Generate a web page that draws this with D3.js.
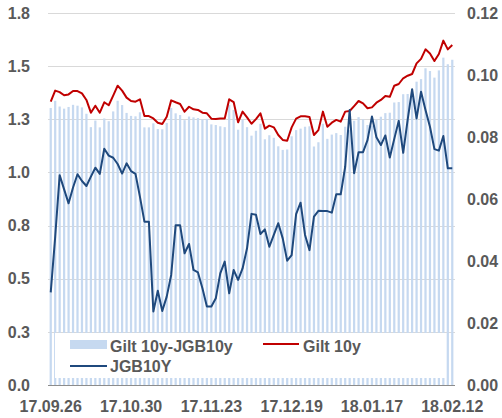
<!DOCTYPE html>
<html><head><meta charset="utf-8">
<script src="https://cdn.jsdelivr.net/npm/d3@7"></script>
<style>
html,body{margin:0;padding:0;background:#fff;}
svg{display:block;font-family:"Liberation Sans",Arial,sans-serif;font-weight:bold;}
</style></head>
<body><svg id="c" width="502" height="418"></svg>
<script>
const dateLabels = ["17.09.26","17.10.30","17.11.23","17.12.19","18.01.17","18.02.12"];
const labelEvery = 18;
const spread = [1.303,1.337,1.310,1.300,1.308,1.318,1.314,1.306,1.276,1.213,1.244,1.212,1.254,1.241,1.287,1.337,1.317,1.280,1.266,1.264,1.283,1.212,1.212,1.231,1.204,1.203,1.233,1.303,1.278,1.270,
1.246,1.263,1.259,1.256,1.249,1.252,1.226,1.223,1.217,1.213,1.318,1.294,1.201,1.247,1.213,1.173,1.196,1.229,1.156,1.175,1.163,1.123,1.106,1.108,1.170,1.199,1.206,1.215,1.217,1.122,
1.142,1.229,1.158,1.178,1.185,1.176,1.215,1.200,1.243,1.260,1.250,1.223,1.220,1.249,1.262,1.279,1.281,1.329,1.331,1.368,1.369,1.370,1.427,1.439,1.490,1.477,1.446,1.480,1.540,1.509,1.530];
const gilt10y = [1.333,1.385,1.378,1.363,1.367,1.383,1.383,1.372,1.341,1.281,1.314,1.281,1.330,1.316,1.361,1.408,1.385,1.352,1.336,1.333,1.344,1.265,1.265,1.254,1.234,1.228,1.262,1.339,1.330,1.322,
1.286,1.309,1.297,1.294,1.281,1.278,1.253,1.251,1.254,1.254,1.344,1.331,1.236,1.286,1.259,1.229,1.251,1.278,1.206,1.220,1.212,1.176,1.153,1.149,1.212,1.253,1.264,1.264,1.261,1.176,
1.199,1.286,1.215,1.234,1.247,1.239,1.286,1.289,1.312,1.336,1.325,1.302,1.306,1.328,1.341,1.360,1.356,1.408,1.416,1.443,1.455,1.463,1.513,1.534,1.579,1.560,1.524,1.557,1.620,1.579,1.599];
const jgb10y = [0.0299,0.0478,0.0677,0.0631,0.0586,0.0637,0.0680,0.0658,0.0642,0.0672,0.0701,0.0681,0.0762,0.0740,0.0733,0.0713,0.0682,0.0715,0.0690,0.0681,0.0607,0.0527,0.0527,0.0237,0.0304,0.0239,0.0285,0.0355,0.0515,0.0515,
0.0425,0.0455,0.0371,0.0363,0.0312,0.0253,0.0253,0.0280,0.0360,0.0398,0.0296,0.0371,0.0339,0.0376,0.0441,0.0552,0.0549,0.0487,0.0502,0.0446,0.0484,0.0522,0.0473,0.0401,0.0419,0.0551,0.0588,0.0484,0.0435,0.0543,
0.0562,0.0561,0.0561,0.0556,0.0615,0.0615,0.0704,0.0887,0.0683,0.0751,0.0751,0.0790,0.0866,0.0799,0.0774,0.0805,0.0734,0.0794,0.0852,0.0749,0.0855,0.0954,0.0860,0.0946,0.0887,0.0833,0.0761,0.0756,0.0803,0.0699,0.0699];
const leftTicks = [0,0.25,0.5,0.75,1.0,1.25,1.5,1.75];
const rightTicks = [0,0.02,0.04,0.06,0.08,0.10,0.12];
const legendNames = ["Gilt 10y-JGB10y","Gilt 10y","JGB10Y"];

const textColor = "#595959", barColor = "#c6d9f0", redColor = "#c00000", blueColor = "#1f497d";
const svg = d3.select("#c");
const idx = d3.range(spread.length);
const x = d3.scaleBand().domain(idx).range([48.5, 454.5]).paddingInner(0.5).paddingOuter(0.25);
const cx = i => x(i) + x.bandwidth()/2;
const yL = d3.scaleLinear().domain([0,1.75]).range([385,13]);
const yR = d3.scaleLinear().domain([0,0.12]).range([385,13]);

// gridlines
svg.append("g").selectAll("line").data(leftTicks.slice(1)).join("line")
  .attr("x1",48).attr("x2",455).attr("y1",d=>Math.round(yL(d))+0.5).attr("y2",d=>Math.round(yL(d))+0.5)
  .attr("stroke","#d9d9d9").attr("stroke-width",1);

// bars
svg.append("g").selectAll("rect").data(spread).join("rect")
  .attr("x",(d,i)=>x(i)).attr("width",x.bandwidth())
  .attr("y",d=>yL(d)).attr("height",d=>yL(0)-yL(d)).attr("fill",barColor);

// legend box (drawn over bars)
svg.append("rect").attr("x",55).attr("y",333).attr("width",390).attr("height",45).attr("fill","#fff");

// lines
const lineL = d3.line().x((d,i)=>cx(i)).y(d=>yL(d));
const lineR = d3.line().x((d,i)=>cx(i)).y(d=>yR(d));
svg.append("path").datum(gilt10y).attr("d",lineL).attr("fill","none").attr("stroke",redColor).attr("stroke-width",2).attr("stroke-linejoin","round");
svg.append("path").datum(jgb10y).attr("d",lineR).attr("fill","none").attr("stroke",blueColor).attr("stroke-width",2).attr("stroke-linejoin","round");

// x axis line
svg.append("line").attr("x1",48).attr("x2",455).attr("y1",385.5).attr("y2",385.5).attr("stroke","#8c8c8c").attr("stroke-width",1);

// left axis labels
svg.append("g").selectAll("text").data(leftTicks).join("text")
  .attr("x",30).attr("y",d=>yL(d)).attr("dy","0.36em").attr("text-anchor","end")
  .attr("font-size",16).attr("fill",textColor).text(d=>d.toFixed(1));
// right axis labels
svg.append("g").selectAll("text").data(rightTicks).join("text")
  .attr("x",467).attr("y",d=>yR(d)).attr("dy","0.36em").attr("text-anchor","start")
  .attr("font-size",16).attr("fill",textColor).text(d=>d.toFixed(2));
// x labels
svg.append("g").selectAll("text").data(dateLabels).join("text")
  .attr("x",(d,k)=>cx(k*labelEvery)).attr("y",412).attr("text-anchor","middle")
  .attr("font-size",16).attr("fill",textColor).text(d=>d);

// legend
const lg = svg.append("g").attr("font-size",16).attr("fill",textColor);
lg.append("rect").attr("x",70).attr("y",340).attr("width",37).attr("height",9).attr("fill",barColor);
lg.append("text").attr("x",110).attr("y",352).text(legendNames[0]);
lg.append("line").attr("x1",263).attr("x2",299).attr("y1",344).attr("y2",344).attr("stroke",redColor).attr("stroke-width",2);
lg.append("text").attr("x",303).attr("y",352).text(legendNames[1]);
lg.append("line").attr("x1",70).attr("x2",107).attr("y1",366).attr("y2",366).attr("stroke",blueColor).attr("stroke-width",2);
lg.append("text").attr("x",110).attr("y",372).text(legendNames[2]);
</script></body></html>
